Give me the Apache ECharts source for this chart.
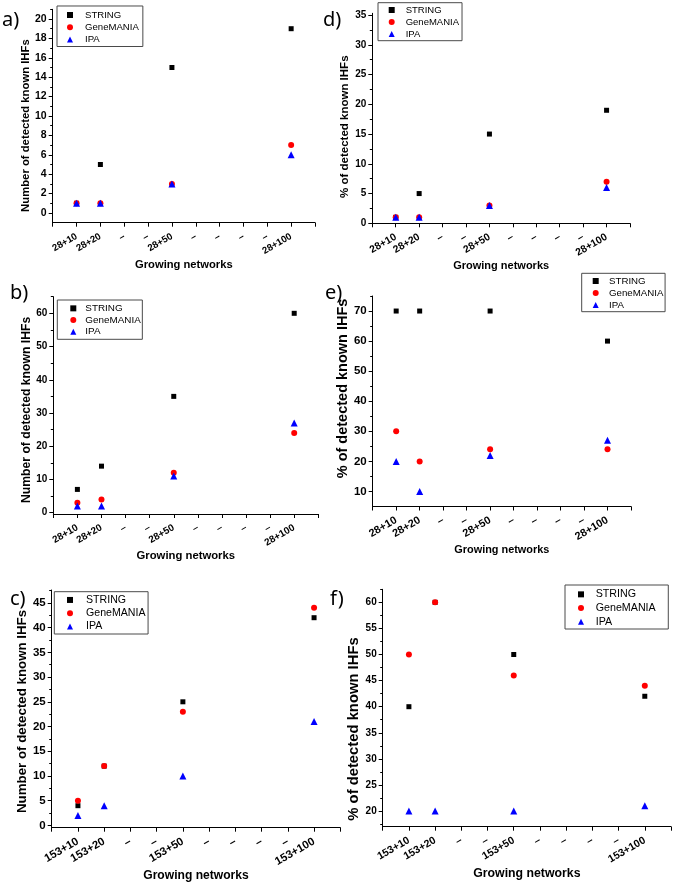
<!DOCTYPE html>
<html><head><meta charset="utf-8">
<script src="https://cdn.jsdelivr.net/npm/echarts@6/dist/echarts.min.js"></script>
<style>html,body{margin:0;padding:0;background:#fff}#chart{width:675px;height:886px}</style>
</head><body><div id="chart"></div>
<script>
// ---------------- data ----------------
const seriesNames = ['STRING', 'GeneMANIA', 'IPA'];
const cats28 = ['28+10', '28+20', '–', '–', '28+50', '–', '–', '–', '–', '28+100'];
const cats153 = ['153+10', '153+20', '–', '–', '153+50', '–', '–', '–', '–', '153+100'];
const yNameCount = 'Number of detected known IHFs';
const yNamePct = '% of detected known IHFs';
const xName = 'Growing networks';

// a) number, 28+
const a_STRING    = [1, 5, null, null, 15, null, null, null, null, 19];
const a_GeneMANIA = [1, 1, null, null, 3, null, null, null, null, 7];
const a_IPA       = [1, 1, null, null, 3, null, null, null, null, 6];
const a_yTicks    = [0, 2, 4, 6, 8, 10, 12, 14, 16, 18, 20];
// d) percent, 28+
const d_STRING    = [1, 5, null, null, 15, null, null, null, null, 19];
const d_GeneMANIA = [1, 1, null, null, 3, null, null, null, null, 7];
const d_IPA       = [1, 1, null, null, 3, null, null, null, null, 6];
const d_yTicks    = [0, 5, 10, 15, 20, 25, 30, 35];
// b) number, 28+
const b_STRING    = [7, 14, null, null, 35, null, null, null, null, 60];
const b_GeneMANIA = [3, 4, null, null, 12, null, null, null, null, 24];
const b_IPA       = [2, 2, null, null, 11, null, null, null, null, 27];
const b_yTicks    = [0, 10, 20, 30, 40, 50, 60];
// e) percent, 28+
const e_STRING    = [70, 70, null, null, 70, null, null, null, null, 60];
const e_GeneMANIA = [30, 20, null, null, 24, null, null, null, null, 24];
const e_IPA       = [20, 10, null, null, 22, null, null, null, null, 27];
const e_yTicks    = [10, 20, 30, 40, 50, 60, 70];
// c) number, 153+
const c_STRING    = [4, 12, null, null, 25, null, null, null, null, 42];
const c_GeneMANIA = [5, 12, null, null, 23, null, null, null, null, 44];
const c_IPA       = [2, 4, null, null, 10, null, null, null, null, 21];
const c_yTicks    = [0, 5, 10, 15, 20, 25, 30, 35, 40, 45];
// f) percent, 153+
const f_STRING    = [40, 60, null, null, 50, null, null, null, null, 42];
const f_GeneMANIA = [50, 60, null, null, 46, null, null, null, null, 44];
const f_IPA       = [20, 20, null, null, 20, null, null, null, null, 21];
const f_yTicks    = [20, 25, 30, 35, 40, 45, 50, 55, 60];

// ---------------- layout / style ----------------
const FONT = 'Liberation Sans';
const panels = [
  { label: 'a)', lx: 2, ly: 23, cats: cats28, s: [a_STRING, a_GeneMANIA, a_IPA], yTicks: a_yTicks, yMin: -1, yMax: 21, yName: yNameCount,
    grid: { left: 52.7, top: 9.3, width: 262.3, height: 213.4 },
    yfs: 10.5, xfs: 9.6, yn: { fs: 11.3, gap: 20, shift: 9.6 }, xn: { fs: 11.2, gap: 37 },
    lg: { left: 57, top: 6, fs: 9.6, tpad: 7, pad: [2.9, 4, 1, 10], lh: 12.2 } },
  { label: 'd)', lx: 323, ly: 23, cats: cats28, s: [d_STRING, d_GeneMANIA, d_IPA], yTicks: d_yTicks, yMin: 0, yMax: 35.3, yName: yNamePct,
    grid: { left: 372.3, top: 13.3, width: 257.7, height: 210 },
    yfs: 10, xfs: 10.3, yn: { fs: 11.5, gap: 17.6, shift: 8.4 }, xn: { fs: 11, gap: 36.5 },
    lg: { left: 378, top: 2.7, fs: 9.5, tpad: 6, pad: [1.3, 3, 0.7, 10.7], lh: 12 } },
  { label: 'b)', lx: 10, ly: 296, cats: cats28, s: [b_STRING, b_GeneMANIA, b_IPA], yTicks: b_yTicks, yMin: -0.4, yMax: 65, yName: yNameCount,
    grid: { left: 53.3, top: 296.7, width: 265, height: 217.3 },
    yfs: 10, xfs: 9.9, yn: { fs: 12.2, gap: 18.8, shift: 4.6 }, xn: { fs: 11.3, gap: 34 },
    lg: { left: 57.3, top: 300, fs: 9.9, tpad: 4, pad: [2.5, 1.6, 1.7, 13], lh: 11.7 } },
  { label: 'e)', lx: 325, ly: 296, cats: cats28, s: [e_STRING, e_GeneMANIA, e_IPA], yTicks: e_yTicks, yMin: 5, yMax: 75, yName: yNamePct,
    grid: { left: 372.7, top: 296, width: 258.3, height: 210.5 },
    yfs: 11.5, xfs: 10.8, yn: { fs: 14.5, gap: 16.3, shift: -12.8 }, xn: { fs: 10.9, gap: 35 },
    lg: { left: 581.7, top: 273.3, fs: 9.7, tpad: 5.3, pad: [1.7, 1.7, 0.7, 11], lh: 12 } },
  { label: 'c)', lx: 10, ly: 602, cats: cats153, s: [c_STRING, c_GeneMANIA, c_IPA], yTicks: c_yTicks, yMin: -0.45, yMax: 47.6, yName: yNameCount,
    grid: { left: 51.7, top: 590, width: 288.6, height: 237.7 },
    yfs: 11.5, xfs: 11.2, yn: { fs: 13.3, gap: 21.2, shift: 2.6 }, xn: { fs: 12.1, gap: 40 },
    lg: { left: 54.3, top: 591.7, fs: 10.6, tpad: 8, pad: [1.6, 2.6, 0.8, 12.7], lh: 13.3 } },
  { label: 'f)', lx: 330, ly: 602, cats: cats153, s: [f_STRING, f_GeneMANIA, f_IPA], yTicks: f_yTicks, yMin: 17, yMax: 62.5, yName: yNamePct,
    grid: { left: 382.7, top: 589.3, width: 288.3, height: 237.4 },
    yfs: 10, xfs: 10.5, yn: { fs: 14.8, gap: 20.5, shift: 21 }, xn: { fs: 12.3, gap: 41 },
    lg: { left: 565, top: 585, fs: 10.7, tpad: 6.7, pad: [2.5, 12.6, 0.4, 13], lh: 13.7 } }
];
const symStyle = [
  { symbol: 'rect', size: 5, color: '#000000', icon: 'rect' },
  { symbol: 'circle', size: 6, color: '#ff0000', icon: 'circle' },
  { symbol: 'triangle', size: 7, color: '#0000ff', icon: 'triangle' }
];

function pts(arr) {
  const out = [];
  arr.forEach((v, i) => { if (v != null) out.push([i + 1, v]); });
  return out;
}
function minorTicks(ticks, min, max) {
  const step = ticks[1] - ticks[0];
  const out = [];
  for (let t = ticks[0] - step / 2; t <= max + 1e-9; t += step) {
    if (t > min + 1e-9) out.push(+t.toFixed(4));
  }
  return out;
}

const grids = [], xAxes = [], yAxes = [], minorY = [], series = [], legends = [], graphics = [];
panels.forEach((p, i) => {
  grids.push(Object.assign({ containLabel: false, outerBoundsMode: 'none' }, p.grid));
  xAxes.push({
    type: 'value', gridIndex: i, min: 0, max: 11, interval: 1,
    name: xName, nameLocation: 'middle', nameGap: p.xn.gap,
    nameTextStyle: { fontFamily: FONT, fontWeight: 'bold', fontSize: p.xn.fs, color: '#000' },
    axisLine: { show: true, onZero: false, lineStyle: { color: '#000', width: 1 } },
    axisTick: { show: true, inside: false, length: 4, lineStyle: { color: '#000', width: 1 } },
    axisLabel: {
      rotate: 30, margin: 13, fontFamily: FONT, fontWeight: 'bold', fontSize: p.xfs, color: '#000',
      formatter: v => (v >= 1 && v <= p.cats.length) ? p.cats[Math.round(v) - 1] : ''
    },
    splitLine: { show: false }
  });
  const sh = p.yn.shift;
  const pad = sh > 0 ? [0, 2 * sh, 0, 0] : [0, 0, 0, -2 * sh];
  yAxes.push({
    type: 'value', gridIndex: i, position: 'left', min: p.yMin, max: p.yMax,
    name: p.yName, nameLocation: 'middle', nameGap: p.yn.gap, nameRotate: 90,
    nameTextStyle: { fontFamily: FONT, fontWeight: 'bold', fontSize: p.yn.fs, color: '#000', padding: pad },
    axisLine: { show: true, onZero: false, lineStyle: { color: '#000', width: 1 } },
    axisTick: { show: true, inside: false, length: 4, customValues: p.yTicks, lineStyle: { color: '#000', width: 1 } },
    axisLabel: { margin: 6, customValues: p.yTicks, fontFamily: FONT, fontWeight: 'bold', fontSize: p.yfs, color: '#000' },
    splitLine: { show: false }
  });
  minorY.push({
    type: 'value', gridIndex: i, position: 'left', min: p.yMin, max: p.yMax,
    axisLine: { show: false },
    axisTick: { show: true, inside: false, length: 2.5, customValues: minorTicks(p.yTicks, p.yMin, p.yMax), lineStyle: { color: '#000', width: 1 } },
    axisLabel: { show: false },
    splitLine: { show: false }
  });
  p.s.forEach((arr, k) => {
    series.push({
      name: seriesNames[k], type: 'scatter', xAxisIndex: i, yAxisIndex: i,
      symbol: symStyle[k].symbol, symbolSize: symStyle[k].size,
      itemStyle: { color: symStyle[k].color, opacity: 1 },
      z: 2 + k, data: pts(arr), emphasis: { disabled: true }
    });
  });
  legends.push({
    data: seriesNames.map((n, k) => ({ name: n, icon: symStyle[k].icon })),
    orient: 'vertical', left: p.lg.left, top: p.lg.top,
    padding: p.lg.pad, itemWidth: 6, itemHeight: 6, itemGap: 0,
    borderColor: '#4a4a4a', borderWidth: 1, borderRadius: 0, backgroundColor: '#fff',
    selectedMode: false,
    textStyle: { fontFamily: FONT, fontSize: p.lg.fs, lineHeight: p.lg.lh, color: '#000', padding: [0, 0, 0, p.lg.tpad] }
  });
  graphics.push({
    type: 'text', left: p.lx, top: p.ly - 13,
    style: { text: p.label, font: '20px "Noto Sans"', fill: '#000' }
  });
});

const chart = echarts.init(document.getElementById('chart'), null, { renderer: 'canvas' });
chart.setOption({
  animation: false,
  backgroundColor: '#fff',
  grid: grids,
  xAxis: xAxes,
  yAxis: yAxes.concat(minorY),
  legend: legends,
  series: series,
  graphic: graphics
});
</script></body></html>
